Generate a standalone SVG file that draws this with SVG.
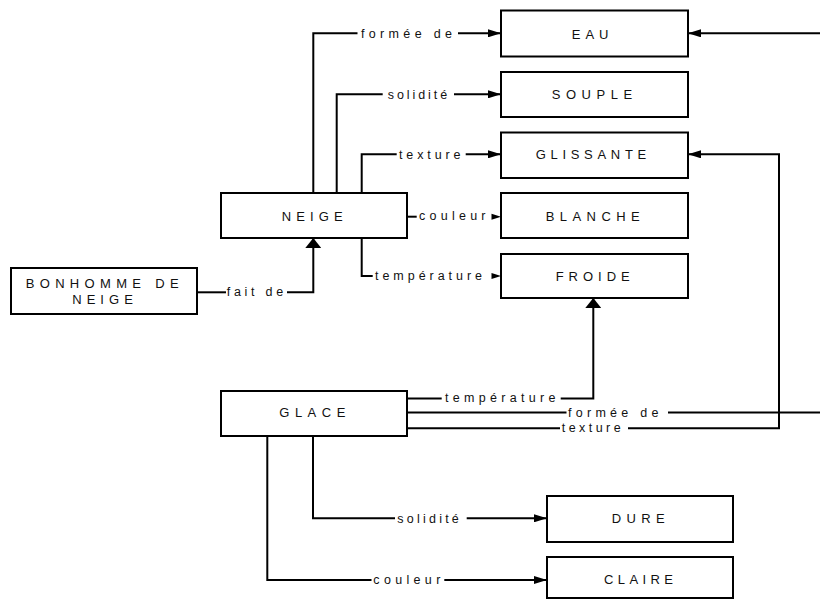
<svg xmlns="http://www.w3.org/2000/svg" width="820" height="599" viewBox="0 0 820 599">
  <style>
    .box { fill: #ffffff; stroke: #000000; stroke-width: 2; }
    .node-text { font-family: "Liberation Sans", Arial, sans-serif; font-size: 13px; fill: #111111; }
    .link { fill: none; stroke: #000000; stroke-width: 2; }
    .head { fill: #000000; }
    .label { font-family: "Liberation Sans", Arial, sans-serif; font-size: 12.5px; fill: #111111; }
  </style>
  <defs>
    <marker id="arr" markerUnits="userSpaceOnUse" markerWidth="13" markerHeight="8" refX="13" refY="4" orient="auto">
      <path d="M0,0 L13,4 L0,8 z" fill="#000000"/>
    </marker>
    <marker id="arrWide" markerUnits="userSpaceOnUse" markerWidth="10" markerHeight="16" refX="10" refY="8" orient="auto">
      <path d="M0,0 L10,8 L0,16 z" fill="#000000"/>
    </marker>
  </defs>

  <rect width="820" height="599" fill="#ffffff"/>

  <!-- connectors -->
  <g id="connectors">
    <!-- NEIGE : formée de -> EAU -->
    <path class="link" d="M313.3,193 V33.3 H357.5"/>
    <path class="link" d="M458,33.3 H501" marker-end="url(#arr)"/>
    <text class="label" x="361" y="37.5" textLength="91" lengthAdjust="spacing">formée de</text>

    <!-- NEIGE : solidité -> SOUPLE -->
    <path class="link" d="M336.7,193 V94.3 H382.7"/>
    <path class="link" d="M454,94.3 H501" marker-end="url(#arr)"/>
    <text class="label" x="387.7" y="98.6" textLength="59.5" lengthAdjust="spacing">solidité</text>

    <!-- NEIGE : texture -> GLISSANTE -->
    <path class="link" d="M361.7,193 V154.3 H396.7"/>
    <path class="link" d="M465.7,154.3 H501" marker-end="url(#arr)"/>
    <text class="label" x="399" y="158.6" textLength="61.5" lengthAdjust="spacing">texture</text>

    <!-- NEIGE : couleur -> BLANCHE -->
    <path class="link" d="M407,216.7 H416.7"/>
    <polygon class="head" points="491.5,213.7 501,216.7 491.5,219.7"/>
    <text class="label" x="419" y="220.2" textLength="66.5" lengthAdjust="spacing">couleur</text>

    <!-- NEIGE : température -> FROIDE -->
    <path class="link" d="M361.7,238 V276 H372.7"/>
    <polygon class="head" points="491.5,273 501,276 491.5,279"/>
    <text class="label" x="375" y="280" textLength="107" lengthAdjust="spacing">température</text>

    <!-- BONHOMME DE NEIGE : fait de -> NEIGE -->
    <path class="link" d="M197,292.3 H226"/>
    <path class="link" d="M287,292.3 H313.3 V238" marker-end="url(#arrWide)"/>
    <text class="label" x="226.7" y="296" textLength="56.5" lengthAdjust="spacing">fait de</text>

    <!-- GLACE : température -> FROIDE -->
    <path class="link" d="M407,398.5 H441.7"/>
    <path class="link" d="M560.7,398.5 H593.3 V298" marker-end="url(#arrWide)"/>
    <text class="label" x="445" y="402.3" textLength="110.5" lengthAdjust="spacing">température</text>

    <!-- GLACE : formée de -> EAU (runs off the right edge) -->
    <path class="link" d="M407,412.6 H566.5"/>
    <path class="link" d="M668,412.6 H820"/>
    <path class="link" d="M820,33.3 H688" marker-end="url(#arr)"/>
    <text class="label" x="568" y="416.8" textLength="90.5" lengthAdjust="spacing">formée de</text>

    <!-- GLACE : texture -> GLISSANTE -->
    <path class="link" d="M407,428.3 H560"/>
    <path class="link" d="M628,428.3 H779 V154.3 H688" marker-end="url(#arr)"/>
    <text class="label" x="561.7" y="431.8" textLength="59" lengthAdjust="spacing">texture</text>

    <!-- GLACE : solidité -> DURE -->
    <path class="link" d="M313,436 V518.3 H395"/>
    <path class="link" d="M466.7,518.3 H547" marker-end="url(#arr)"/>
    <text class="label" x="397.3" y="522.6" textLength="61.5" lengthAdjust="spacing">solidité</text>

    <!-- GLACE : couleur -> CLAIRE -->
    <path class="link" d="M267.3,436 V580 H371.5"/>
    <path class="link" d="M444.3,580 H547" marker-end="url(#arr)"/>
    <text class="label" x="373.3" y="584.2" textLength="67" lengthAdjust="spacing">couleur</text>
  </g>

  <!-- nodes -->
  <g id="node-eau">
    <rect class="box" x="501" y="10.5" width="187" height="46"/>
    <text class="node-text" x="571.7" y="39" textLength="36.8" lengthAdjust="spacing">EAU</text>
  </g>
  <g id="node-souple">
    <rect class="box" x="501" y="72" width="187" height="45"/>
    <text class="node-text" x="551.7" y="99" textLength="80.5" lengthAdjust="spacing">SOUPLE</text>
  </g>
  <g id="node-glissante">
    <rect class="box" x="501" y="132.5" width="187" height="45.5"/>
    <text class="node-text" x="535.7" y="159" textLength="110.5" lengthAdjust="spacing">GLISSANTE</text>
  </g>
  <g id="node-blanche">
    <rect class="box" x="501" y="193" width="187" height="45"/>
    <text class="node-text" x="545.7" y="220.7" textLength="94" lengthAdjust="spacing">BLANCHE</text>
  </g>
  <g id="node-froide">
    <rect class="box" x="501" y="254" width="187" height="44"/>
    <text class="node-text" x="555.7" y="280.7" textLength="74" lengthAdjust="spacing">FROIDE</text>
  </g>
  <g id="node-neige">
    <rect class="box" x="221" y="193" width="186" height="45"/>
    <text class="node-text" x="281.7" y="220.7" textLength="61" lengthAdjust="spacing">NEIGE</text>
  </g>
  <g id="node-bonhomme">
    <rect class="box" x="11" y="268" width="186" height="46"/>
    <text class="node-text" x="25.7" y="288.3" textLength="153" lengthAdjust="spacing">BONHOMME DE</text>
    <text class="node-text" x="72.3" y="304" textLength="60.5" lengthAdjust="spacing">NEIGE</text>
  </g>
  <g id="node-glace">
    <rect class="box" x="221" y="391" width="186" height="45"/>
    <text class="node-text" x="279.3" y="417" textLength="66" lengthAdjust="spacing">GLACE</text>
  </g>
  <g id="node-dure">
    <rect class="box" x="547" y="496" width="186" height="46"/>
    <text class="node-text" x="611.7" y="522.7" textLength="53" lengthAdjust="spacing">DURE</text>
  </g>
  <g id="node-claire">
    <rect class="box" x="547" y="557" width="186" height="41"/>
    <text class="node-text" x="604" y="584.3" textLength="69" lengthAdjust="spacing">CLAIRE</text>
  </g>
</svg>
